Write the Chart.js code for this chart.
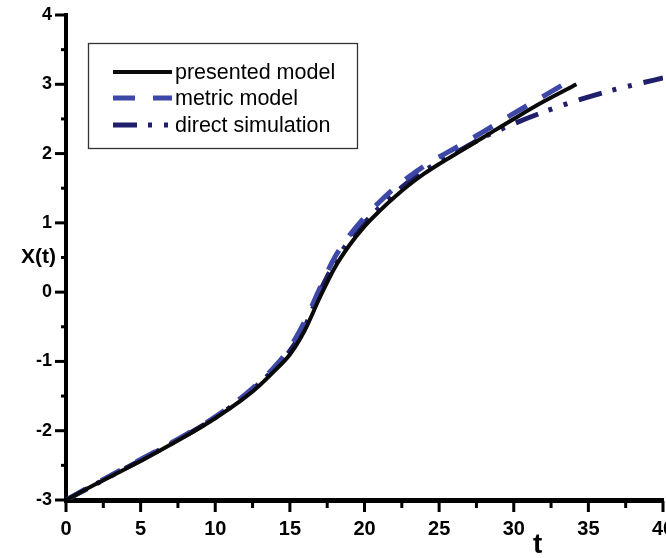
<!DOCTYPE html>
<html>
<head>
<meta charset="utf-8">
<script src="https://cdn.jsdelivr.net/npm/chart.js@4/dist/chart.umd.min.js"></script>
<style>
  html, body { margin: 0; padding: 0; background: #fff; }
  #wrap { width: 666px; height: 558px; position: relative; }
</style>
</head>
<body>
<div id="wrap"><canvas id="c" width="666" height="558"></canvas></div>
<script>
// ---- data ----
const seriesLabels = ['presented model', 'metric model', 'direct simulation'];

const presentedT = [0, 2, 4, 6, 8, 10, 12, 13, 14, 15, 16, 17, 18, 19, 20, 21, 22, 23, 24, 25, 26, 28, 30, 32, 34.2];
const presentedX = [-3, -2.77, -2.55, -2.32, -2.08, -1.82, -1.52, -1.34, -1.13, -0.9, -0.55, -0.08, 0.35, 0.68, 0.95, 1.17, 1.37, 1.55, 1.71, 1.85, 1.98, 2.24, 2.5, 2.75, 3.0];

const metricT = [0, 2, 4, 6, 8, 10, 12, 13, 14, 15, 16, 17, 18, 19, 20, 21, 22, 23, 24, 25, 26, 28, 30, 32, 33.5];
const metricX = [-3, -2.76, -2.53, -2.3, -2.06, -1.8, -1.48, -1.29, -1.07, -0.8, -0.42, 0.05, 0.5, 0.82, 1.08, 1.3, 1.5, 1.67, 1.82, 1.95, 2.07, 2.32, 2.58, 2.83, 3.02];

const directT = [0, 2, 4, 6, 8, 10, 12, 13, 14, 15, 16, 17, 18, 19, 20, 21, 22, 23, 24, 25, 26, 27, 28, 30, 32, 34, 36, 38, 40];
const directX = [-3, -2.77, -2.54, -2.31, -2.07, -1.81, -1.5, -1.31, -1.1, -0.85, -0.5, 0.0, 0.42, 0.75, 1.0, 1.22, 1.42, 1.6, 1.75, 1.88, 2.0, 2.12, 2.24, 2.43, 2.6, 2.75, 2.88, 2.99, 3.09];

const xTickValues = [0, 5, 10, 15, 20, 25, 30, 35, 40];
const yTickValues = [-3, -2, -1, 0, 1, 2, 3, 4];
const xAxisTitle = 't';
const yAxisTitle = 'X(t)';

function pts(ts, xs) { return ts.map((t, i) => ({ x: t, y: xs[i] })); }

const FONT = "'Liberation Sans', Arial, sans-serif";

const customAxes = {
  id: 'customAxes',
  afterDraw(chart) {
    const ctx = chart.ctx;
    const xs = chart.scales.x, ys = chart.scales.y;
    const left = chart.chartArea.left, bottom = chart.chartArea.bottom;
    ctx.save();
    ctx.strokeStyle = '#000';
    ctx.lineCap = 'butt';
    // y ticks
    for (let v = -3; v <= 4.001; v += 0.5) {
      const py = ys.getPixelForValue(v);
      const major = Math.abs(v - Math.round(v)) < 1e-6;
      ctx.lineWidth = 3;
      ctx.beginPath();
      ctx.moveTo(left - 1, py);
      ctx.lineTo(left - (major ? 11 : 5), py);
      ctx.stroke();
    }
    // x ticks
    for (let v = 0; v <= 40.001; v += 2.5) {
      const px = xs.getPixelForValue(v);
      const major = Math.abs(v / 5 - Math.round(v / 5)) < 1e-6;
      ctx.lineWidth = 3;
      ctx.beginPath();
      ctx.moveTo(px, bottom + 1);
      ctx.lineTo(px, bottom + (major ? 12 : 8));
      ctx.stroke();
    }
    // axis titles
    ctx.fillStyle = '#000';
    ctx.font = "bold 21px 'Liberation Sans', Arial, sans-serif";
    ctx.textAlign = 'right';
    ctx.textBaseline = 'middle';
    ctx.fillText(yAxisTitle, 56, ys.getPixelForValue(0.5));
    ctx.font = "bold 28px 'Liberation Sans', Arial, sans-serif";
    ctx.textAlign = 'center';
    ctx.fillText(xAxisTitle, xs.getPixelForValue(31.6), 545);

    // legend
    ctx.lineWidth = 1.3;
    ctx.strokeStyle = '#333';
    ctx.strokeRect(88.5, 43.5, 269, 105);
    const rows = [72, 98, 125];
    chart.data.datasets.forEach((ds, i) => {
      ctx.save();
      ctx.strokeStyle = ds.borderColor;
      ctx.lineWidth = ds.borderWidth;
      ctx.setLineDash(ds.borderDash || []);
      ctx.beginPath();
      ctx.moveTo(113, rows[i]);
      ctx.lineTo(172, rows[i]);
      ctx.stroke();
      ctx.restore();
      ctx.fillStyle = '#000';
      ctx.font = "21.5px 'Liberation Sans', Arial, sans-serif";
      ctx.textAlign = 'left';
      ctx.textBaseline = 'middle';
      ctx.fillText(ds.label, 175, rows[i] + 1);
    });
    ctx.restore();
  }
};

new Chart(document.getElementById('c'), {
  type: 'scatter',
  data: {
    datasets: [
      { label: seriesLabels[0], data: pts(presentedT, presentedX), showLine: true,
        borderColor: '#0a0a0a', borderWidth: 4, pointRadius: 0, cubicInterpolationMode: 'monotone' },
      { label: seriesLabels[1], data: pts(metricT, metricX), showLine: true,
        borderColor: '#3d47a8', borderWidth: 5, borderDash: [22, 18], pointRadius: 0, cubicInterpolationMode: 'monotone' },
      { label: seriesLabels[2], data: pts(directT, directX), showLine: true,
        borderColor: '#1f1f6b', borderWidth: 5, borderDash: [24, 11, 4, 12, 4, 12], pointRadius: 0, cubicInterpolationMode: 'monotone' }
    ]
  },
  options: {
    responsive: false,
    animation: false,
    layout: { padding: { left: 0, right: 3, top: 15, bottom: 0 } },
    plugins: { legend: { display: false }, tooltip: { enabled: false } },
    scales: {
      x: {
        type: 'linear', min: 0, max: 40,
        afterBuildTicks: (s) => { s.ticks = xTickValues.map(v => ({ value: v })); },
        afterFit: (s) => { s.height = 58; s.paddingLeft = 0; s.paddingRight = 0; },
        grid: { display: false },
        border: { display: true, color: '#000', width: 5 },
        ticks: { autoSkip: false, maxRotation: 0, padding: 9, color: '#000',
          font: { family: FONT, size: 20, weight: 'bold' } }
      },
      y: {
        type: 'linear', min: -3, max: 4,
        afterBuildTicks: (s) => { s.ticks = yTickValues.map(v => ({ value: v })); },
        afterFit: (s) => { s.width = 66; s.paddingTop = 0; s.paddingBottom = 0; },
        grid: { display: false },
        border: { display: true, color: '#000', width: 4 },
        ticks: { autoSkip: false, padding: 6, color: '#000',
          font: { family: FONT, size: 18, weight: 'bold' } }
      }
    }
  },
  plugins: [customAxes]
});
</script>
</body>
</html>
